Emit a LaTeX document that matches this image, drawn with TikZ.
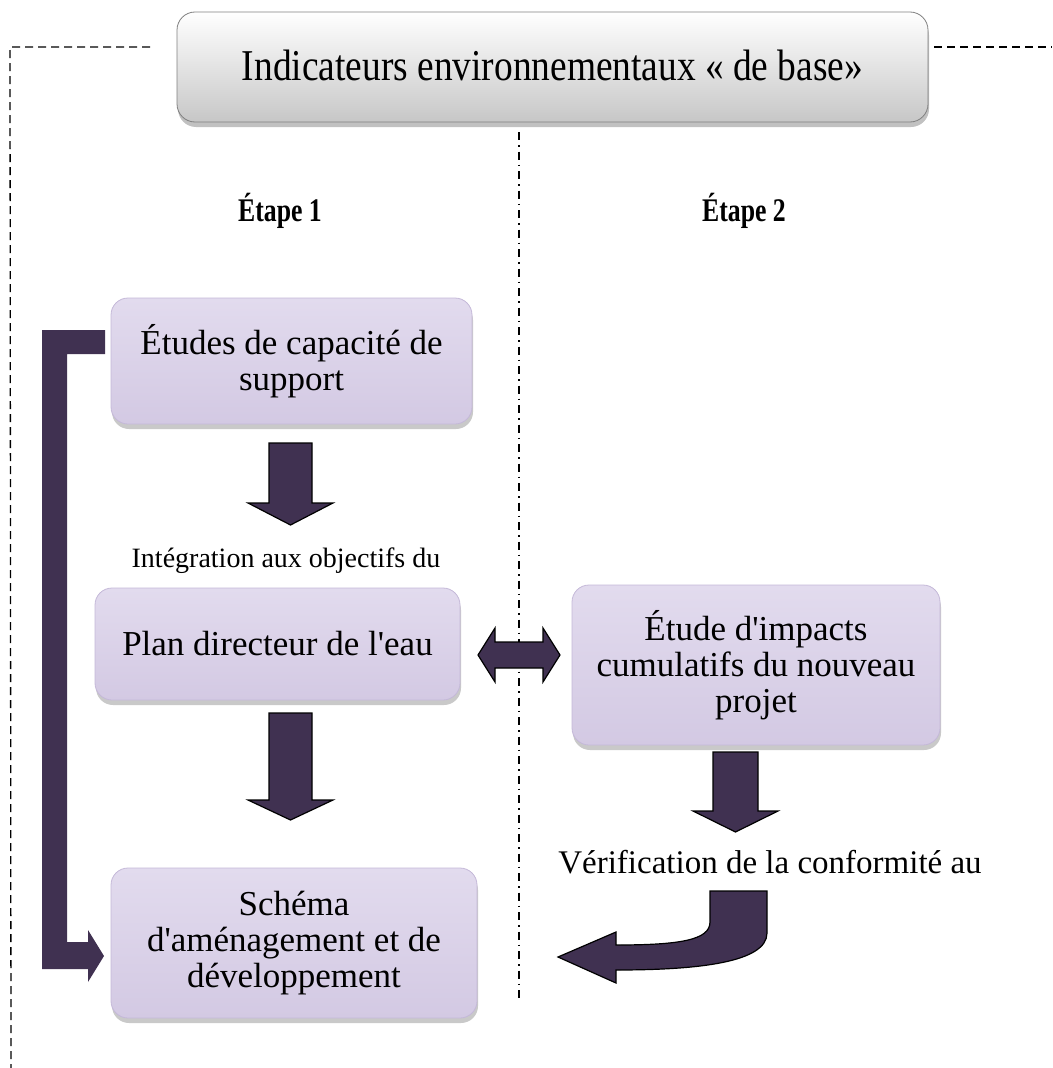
\documentclass[tikz,border=0pt]{standalone}
\usepackage{fontspec}
\setmainfont{Liberation Serif}[Ligatures=TeXOff]
\usepackage{graphicx}
\usetikzlibrary{shadows}
\definecolor{arrowfill}{HTML}{403151}
\definecolor{boxtop}{HTML}{E2DBEE}
\definecolor{boxbot}{HTML}{D3C9E3}
\definecolor{boxedge}{HTML}{C4B8D8}
\tikzset{
  purplebox/.style={rounded corners=17pt, top color=boxtop, bottom color=boxbot,
    draw=boxedge, line width=0.8pt,
    drop shadow={shadow xshift=1pt, shadow yshift=-5pt, opacity=0.3, fill=black!70},
    align=center, inner sep=0pt, font=\fontsize{35}{36}\selectfont},
  greybox/.style={rounded corners=18pt, top color=white, bottom color=black!22,
    draw=black!50, line width=0.8pt,
    drop shadow={shadow xshift=1pt, shadow yshift=-5pt, opacity=0.35, fill=black!70},
    inner sep=0pt},
  blockarrow/.style={fill=arrowfill, draw=black, line width=1.2pt, line join=miter},
  flatarrow/.style={fill=arrowfill},
  frameline/.style={line width=1.3pt, dash pattern=on 8pt off 5pt},
  splitline/.style={line width=1.3pt, dash pattern=on 8pt off 5pt on 1.5pt off 5pt},
  plainlabel/.style={inner sep=0pt, anchor=base}
}
\begin{document}
\begin{tikzpicture}[x=1pt,y=-1pt]
\useasboundingbox (0,0) rectangle (1052,1068);

% dashed frame
\coordinate (fl1) at (10,47);
\coordinate (fl2) at (150,47);
\coordinate (fl3) at (11,1068);
\coordinate (fr1) at (934,47);
\coordinate (fr2) at (1052,47);
\draw[frameline] (fl2) -- (fl1) -- (fl3);
\draw[frameline] (fr1) -- (fr2);

% vertical dash-dot separator
\coordinate (s1) at (519,132);
\coordinate (s2) at (519,1000);
\draw[splitline] (s1) -- (s2);

% top box
\node[greybox, minimum width=751pt, minimum height=110pt] (top) at (552.5,67) {};
\node[plainlabel, font=\fontsize{44}{46}\selectfont] (toptext) at (552.5,80)
  {\scalebox{0.85}[1]{Indicateurs environnementaux « de base»}};

% stage labels
\node[plainlabel, font=\bfseries\fontsize{33}{35}\selectfont] (e1) at (280,221) {\scalebox{0.78}[1]{Étape 1}};
\node[plainlabel, font=\bfseries\fontsize{33}{35}\selectfont] (e2) at (744,221) {\scalebox{0.78}[1]{Étape 2}};

% boxes
\node[purplebox, minimum width=361pt, minimum height=126pt] (caps) at (291.5,361)
  {Études de capacité de\\support};
\node[purplebox, minimum width=365pt, minimum height=112pt] (plan) at (277.5,644)
  {Plan directeur de l'eau};
\node[purplebox, minimum width=368pt, minimum height=160pt] (impact) at (756,665)
  {Étude d'impacts\\cumulatifs du nouveau\\projet};
\node[purplebox, minimum width=366pt, minimum height=150pt] (schema) at (294,943)
  {\raisebox{0pt}[\height][\depth]{}Schéma\\d'aménagement et de\\développement};

% intermediate labels
\node[plainlabel, font=\fontsize{28}{30}\selectfont] (integ) at (286,567) {Intégration aux objectifs du};
\node[plainlabel, font=\fontsize{33}{35}\selectfont] (verif) at (770,873) {Vérification de la conformité au};

% down arrows
\draw[blockarrow] (269,443) -- (312,443) -- (312,503) -- (333,503) -- (290.5,525)
  -- (248,503) -- (269,503) -- cycle;
\draw[blockarrow] (269,713) -- (312,713) -- (312,800) -- (333,800) -- (290.5,820)
  -- (248,800) -- (269,800) -- cycle;
\draw[blockarrow] (713,752) -- (758,752) -- (758,811) -- (778,811) -- (735.5,832)
  -- (693,811) -- (713,811) -- cycle;

% double arrow
\draw[blockarrow] (478,655) -- (495,628) -- (495,642) -- (543,642) -- (543,628)
  -- (560,655) -- (543,682) -- (543,668) -- (495,668) -- (495,682) -- cycle;

% bracket arrow
\fill[flatarrow] (42,330) -- (105,330) -- (105,354) -- (67,354) -- (67,942)
  -- (88,942) -- (88,930) -- (104,956) -- (88,982) -- (88,969) -- (42,969) -- cycle;

% curved arrow
\draw[blockarrow] (710,891) -- (767,891) -- (767,933)
  .. controls (767,962) and (700,970) .. (616,970) -- (616,983) -- (558,957)
  -- (616,932) -- (616,945) .. controls (680,945) and (710,940) .. (710,922) -- cycle;
\end{tikzpicture}
\end{document}
